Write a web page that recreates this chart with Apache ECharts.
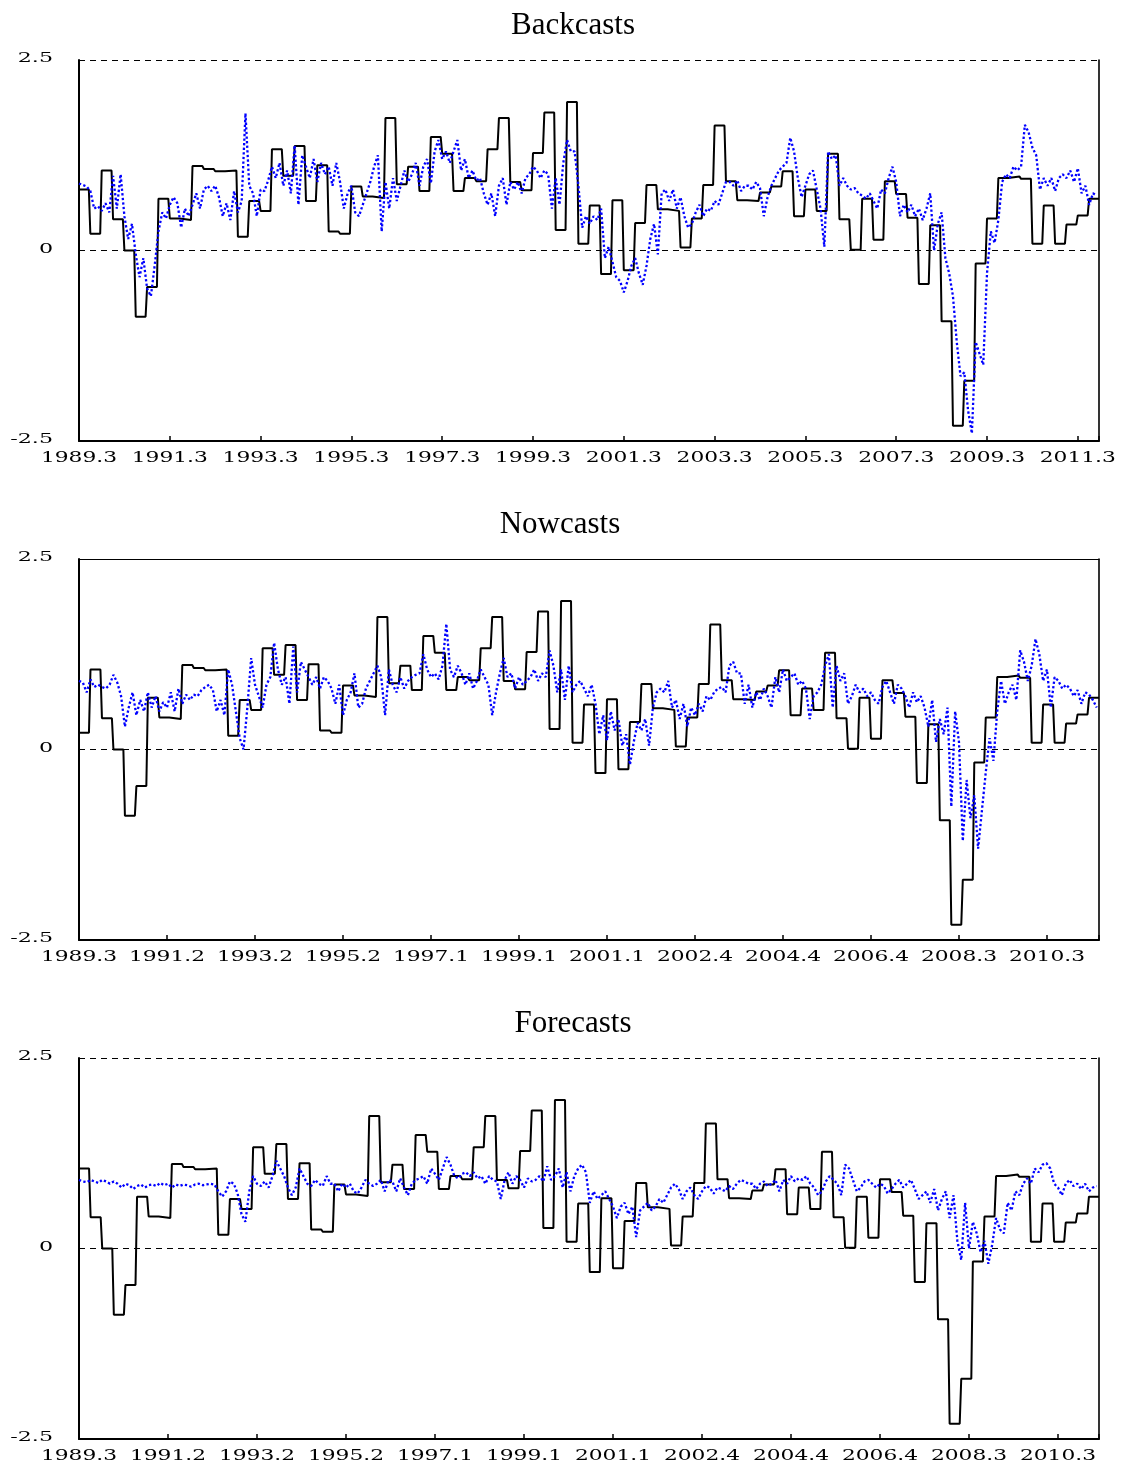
<!DOCTYPE html>
<html>
<head>
<meta charset="utf-8">
<title>Backcasts, Nowcasts and Forecasts</title>
<script src="https://cdn.jsdelivr.net/npm/echarts@6/dist/echarts.min.js"></script>
<style>
  html, body { margin: 0; padding: 0; background: #ffffff; }
  #chart { width: 1125px; height: 1467px; }
</style>
</head>
<body>
<div id="chart"></div>
<script>
// Quarterly GDP growth (%), 1989Q3 onwards: drawn as the black step line
const gdpGrowth = [
  0.80, 0.22, 1.05, 0.41, 0.00, -0.87, -0.48, 0.68, 0.42, 0.40,
  1.11, 1.07, 1.04, 1.05, 0.18, 0.65, 0.52, 1.33, 0.98, 1.37,
  0.65, 1.12, 0.25, 0.22, 0.84, 0.71, 0.69, 1.74, 0.87, 1.10,
  0.78, 1.49, 1.27, 0.78, 0.95, 0.91, 1.33, 1.74, 0.90, 0.79,
  1.28, 1.81, 0.27, 1.95, 0.09, 0.59, -0.31, 0.66, -0.26, 0.36,
  0.86, 0.54, 0.52, 0.04, 0.42, 0.86, 1.64, 0.91, 0.66, 0.65,
  0.76, 0.84, 1.04, 0.45, 0.80, 0.52, 1.27, 0.41, 0.01, 0.68,
  0.14, 0.91, 0.74, 0.43, -0.44, 0.33, -0.93, -2.30, -1.71, -0.17,
  0.42, 0.95, 0.97, 0.94, 0.09, 0.59, 0.09, 0.34, 0.46, 0.68
];

// Monthly model estimates (blue dotted lines)
const backcastPath = [
  0.88, 0.86, 0.84, 0.78, 0.55, 0.58, 0.52, 0.62, 0.50, 0.98,
  0.55, 1.00, 0.45, 0.15, 0.35, -0.05, -0.35, -0.10, -0.50, -0.60,
  -0.20, 0.25, 0.50, 0.42, 0.60, 0.70, 0.62, 0.30, 0.55, 0.45,
  0.60, 0.75, 0.55, 0.80, 0.85, 0.78, 0.85, 0.70, 0.45, 0.62,
  0.40, 0.78, 0.50, 0.65, 1.80, 0.85, 0.75, 0.45, 0.80, 0.78,
  0.92, 1.10, 0.95, 1.15, 0.85, 1.05, 0.75, 1.38, 0.60, 1.25,
  1.10, 0.95, 1.20, 0.90, 1.15, 1.00, 1.10, 0.85, 1.15, 0.90,
  0.55, 0.75, 0.85, 0.50, 0.45, 0.60, 0.75, 0.90, 1.10, 1.25,
  0.25, 0.90, 0.55, 0.95, 0.65, 0.85, 1.05, 0.90, 1.00, 1.15,
  0.85, 1.10, 1.20, 0.88, 1.30, 1.45, 1.20, 1.30, 1.15, 1.30,
  1.45, 1.05, 1.20, 0.95, 1.05, 0.92, 0.95, 0.75, 0.60, 0.75,
  0.45, 0.85, 0.95, 0.60, 0.90, 0.80, 0.90, 0.75, 0.95, 1.00,
  1.10, 1.05, 0.95, 1.05, 1.00, 0.55, 0.95, 0.60, 1.15, 1.45,
  1.30, 1.30, 0.85, 0.30, 0.45, 0.35, 0.45, 0.40, 0.55, -0.10,
  0.05, -0.15, -0.35, -0.40, -0.55, -0.40, -0.20, -0.10, -0.30, -0.45,
  -0.20, 0.15, 0.35, -0.05, 0.75, 0.80, 0.65, 0.80, 0.55, 0.70,
  0.45, 0.30, 0.35, 0.50, 0.60, 0.45, 0.55, 0.52, 0.65, 0.60,
  0.75, 0.90, 0.90, 0.85, 0.92, 0.78, 0.85, 0.85, 0.80, 0.90,
  0.82, 0.45, 0.70, 0.85, 0.95, 1.05, 1.10, 1.15, 1.48, 1.30,
  0.95, 0.70, 0.85, 1.00, 1.05, 0.80, 0.55, 0.05, 1.30, 1.20,
  1.25, 0.85, 0.95, 0.85, 0.80, 0.82, 0.75, 0.72, 0.68, 0.75,
  0.65, 0.55, 0.80, 0.75, 0.95, 1.10, 0.90, 0.45, 0.60, 0.50,
  0.60, 0.45, 0.55, 0.40, 0.55, 0.75, 0.00, 0.35, 0.50, -0.10,
  -0.30, -0.60, -1.20, -1.65, -1.60, -2.10, -2.40, -1.20, -1.35, -1.50,
  -0.30, 0.25, 0.10, 0.40, 0.90, 1.00, 0.95, 1.10, 1.05, 1.10,
  1.65, 1.55, 1.35, 1.25, 0.80, 0.95, 0.85, 0.95, 0.78, 0.95,
  1.00, 0.95, 1.05, 0.90, 1.08, 0.75, 0.85, 0.60, 0.75, 0.72
];

const nowcastPath = [
  0.90, 0.88, 0.75, 0.92, 0.82, 0.85, 0.82, 0.80, 0.85, 0.98,
  0.88, 0.70, 0.30, 0.55, 0.75, 0.45, 0.65, 0.50, 0.75, 0.55,
  0.70, 0.50, 0.62, 0.55, 0.75, 0.50, 0.80, 0.60, 0.72, 0.65,
  0.72, 0.70, 0.78, 0.82, 0.85, 0.78, 0.50, 0.65, 0.45, 1.05,
  0.85, 0.50, 0.15, 0.00, 0.55, 1.20, 0.85, 0.70, 0.55, 0.85,
  0.95, 1.40, 1.05, 0.85, 0.95, 0.60, 1.35, 0.75, 1.15, 1.05,
  0.95, 0.85, 0.95, 0.80, 0.95, 0.90, 0.80, 0.60, 0.85, 0.45,
  0.65, 0.75, 1.00, 0.55, 0.60, 0.80, 0.90, 1.00, 1.10, 0.95,
  0.45, 1.05, 0.85, 0.75, 0.95, 0.80, 0.90, 0.95, 0.98, 1.00,
  1.25, 1.05, 0.95, 1.00, 0.92, 1.10, 1.65, 1.05, 0.95, 1.10,
  1.00, 0.85, 1.00, 0.80, 0.90, 1.05, 0.95, 0.85, 0.45, 0.75,
  1.00, 1.20, 0.95, 1.00, 0.80, 0.95, 0.85, 0.90, 0.95, 1.05,
  0.90, 1.00, 0.95, 1.30, 1.10, 0.75, 1.05, 0.65, 1.10, 0.75,
  0.85, 0.90, 0.80, 0.70, 0.85, 0.60, 0.20, 0.45, 0.12, 0.50,
  0.25, 0.40, 0.05, 0.20, -0.20, 0.10, 0.35, 0.25, 0.40, 0.05,
  0.55, 0.75, 0.80, 0.75, 0.90, 0.55, 0.65, 0.40, 0.60, 0.30,
  0.55, 0.45, 0.60, 0.50, 0.70, 0.65, 0.75, 0.80, 0.82, 0.75,
  1.10, 1.15, 1.00, 1.00, 0.60, 0.85, 0.55, 0.75, 0.65, 0.80,
  0.70, 0.55, 0.95, 0.75, 1.05, 0.90, 0.95, 1.00, 0.85, 0.90,
  0.80, 0.40, 0.70, 0.75, 0.85, 1.10, 1.25, 0.55, 1.10, 0.90,
  1.00, 0.60, 0.70, 0.85, 0.75, 0.80, 0.70, 0.75, 0.65, 0.60,
  0.82, 0.90, 0.75, 0.60, 0.85, 0.80, 0.70, 0.55, 0.75, 0.62,
  0.70, 0.55, 0.30, 0.65, 0.10, 0.40, 0.20, 0.55, -0.75, 0.50,
  0.10, -1.20, -0.40, -0.90, -0.60, -1.30, -0.80, -0.30, 0.15, -0.15,
  0.50, 0.90, 0.60, 0.75, 0.85, 0.65, 1.30, 1.15, 0.90, 1.10,
  1.45, 1.25, 0.90, 1.05, 0.55, 0.95, 0.90, 0.80, 0.85, 0.80,
  0.70, 0.78, 0.60, 0.75, 0.72, 0.65, 0.55
];

const forecastPath = [
  0.90, 0.88, 0.87, 0.90, 0.88, 0.86, 0.90, 0.88, 0.85, 0.88,
  0.85, 0.80, 0.85, 0.83, 0.78, 0.82, 0.84, 0.80, 0.83, 0.84,
  0.82, 0.86, 0.83, 0.85, 0.80, 0.84, 0.82, 0.84, 0.83, 0.81,
  0.84, 0.85, 0.83, 0.84, 0.85, 0.84, 0.75, 0.68, 0.75, 0.88,
  0.85, 0.72, 0.45, 0.35, 0.75, 0.95, 0.85, 0.82, 0.88, 0.80,
  0.95, 1.15, 1.05, 0.95, 0.80, 0.70, 0.80, 1.05, 0.95, 0.85,
  0.82, 0.90, 0.85, 0.82, 0.95, 0.85, 0.85, 0.75, 0.85, 0.80,
  0.85, 0.75, 0.72, 0.80, 0.90, 0.85, 0.82, 0.85, 0.90, 0.75,
  0.90, 0.88, 0.75, 0.92, 0.80, 0.70, 0.85, 0.90, 0.92, 0.95,
  0.85, 1.05, 0.98, 0.90, 1.05, 1.20, 1.10, 0.95, 0.92, 0.98,
  1.00, 0.95, 1.00, 0.92, 0.95, 0.85, 0.95, 0.90, 0.88, 0.65,
  0.90, 1.00, 0.85, 0.95, 0.90, 0.80, 0.92, 0.88, 0.90, 0.95,
  0.88, 1.08, 0.90, 0.95, 1.05, 0.80, 1.00, 0.75, 0.95, 1.05,
  1.10, 1.00, 0.60, 0.75, 0.65, 0.70, 0.75, 0.65, 0.55, 0.40,
  0.55, 0.60, 0.45, 0.55, 0.15, 0.50, 0.55, 0.60, 0.50, 0.55,
  0.65, 0.60, 0.70, 0.80, 0.85, 0.78, 0.65, 0.75, 0.80, 0.70,
  0.65, 0.75, 0.82, 0.80, 0.72, 0.80, 0.78, 0.75, 0.82, 0.78,
  0.85, 0.90, 0.88, 0.85, 0.85, 0.78, 0.85, 0.88, 0.82, 0.85,
  0.90, 0.75, 0.90, 0.85, 0.95, 0.88, 0.92, 0.90, 0.95, 0.85,
  0.80, 0.70, 0.75, 0.88, 0.95, 0.90, 0.85, 0.70, 1.10, 1.05,
  0.90, 0.75, 0.80, 0.88, 0.90, 0.85, 0.80, 0.85, 0.82, 0.72,
  0.78, 0.85, 0.90, 0.80, 0.85, 0.90, 0.78, 0.65, 0.70, 0.75,
  0.60, 0.78, 0.50, 0.65, 0.75, 0.40, 0.70, 0.10, -0.15, 0.60,
  0.00, 0.35, 0.20, -0.05, 0.10, -0.20, 0.05, 0.40, 0.25, 0.20,
  0.60, 0.50, 0.75, 0.70, 0.85, 0.92, 0.85, 1.05, 1.00, 1.10,
  1.12, 1.05, 0.85, 0.80, 0.70, 0.85, 0.90, 0.82, 0.85, 0.78,
  0.85, 0.75, 0.80, 0.82
];

// Tick labels
const backcastTicks = ['1989.3', '1991.3', '1993.3', '1995.3', '1997.3', '1999.3',
  '2001.3', '2003.3', '2005.3', '2007.3', '2009.3', '2011.3'];
const laterTicks = ['1989.3', '1991.2', '1993.2', '1995.2', '1997.1', '1999.1',
  '2001.1', '2002.4', '2004.4', '2006.4', '2008.3', '2010.3'];
const yTicks = ['-2.5', '0', '2.5'];
const panelTitles = ['Backcasts', 'Nowcasts', 'Forecasts'];

// Panel set-up: which quarter each panel starts at, months between ticks
const panels = [
  { title: panelTitles[0], path: backcastPath, firstQuarter: 0, tickStep: 24, ticks: backcastTicks, solidTop: false },
  { title: panelTitles[1], path: nowcastPath,  firstQuarter: 1, tickStep: 23, ticks: laterTicks,    solidTop: true },
  { title: panelTitles[2], path: forecastPath, firstQuarter: 2, tickStep: 23, ticks: laterTicks,    solidTop: false }
];

const panelTop = [60, 559, 1058];
const panelHeight = 381;
const titleCenter = [568, 555, 568];
const labelFont = 'DejaVu Serif';

const grids = [], xAxes = [], yAxes = [], series = [], titles = [], axisRefs = [];

panels.forEach((p, i) => {
  const quarters = gdpGrowth.slice(p.firstQuarter);
  const xMax = 3 * quarters.length - 0.4;

  grids.push({ left: 79, right: 26, top: panelTop[i], height: panelHeight, containLabel: false });

  titles.push({
    text: p.title,
    left: titleCenter[i],
    top: panelTop[i] - 55,
    textAlign: 'center',
    textStyle: { fontFamily: 'Liberation Serif', fontSize: 31, fontWeight: 'normal', color: '#000' }
  });

  const xIndex = xAxes.length;
  xAxes.push({
    gridIndex: i, type: 'value', position: 'bottom',
    min: 0, max: xMax, interval: p.tickStep,
    axisLine: { onZero: false, lineStyle: { color: '#000', width: 2 } },
    axisTick: { inside: true, length: 5, lineStyle: { color: '#000', width: 1.5 } },
    axisLabel: { show: false },
    splitLine: { show: false }
  });
  if (p.solidTop) {
    xAxes.push({
      gridIndex: i, type: 'value', position: 'top', min: 0, max: xMax,
      axisLine: { onZero: false, lineStyle: { color: '#000', width: 1.2 } },
      axisTick: { show: false }, axisLabel: { show: false }, splitLine: { show: false }
    });
  }

  const yIndex = yAxes.length;
  yAxes.push({
    gridIndex: i, type: 'value', position: 'left',
    min: -2.5, max: 2.5, interval: 2.5,
    axisLine: { onZero: false, lineStyle: { color: '#000', width: 2 } },
    axisTick: { show: false },
    axisLabel: { show: false },
    splitLine: { show: true, lineStyle: { color: '#000', width: 1, type: [6, 5] } }
  });
  // right-hand frame
  yAxes.push({
    gridIndex: i, type: 'value', position: 'right', min: -2.5, max: 2.5,
    axisLine: { show: true, onZero: false, lineStyle: { color: '#000', width: 1.6 } },
    axisTick: { show: false }, axisLabel: { show: false }, splitLine: { show: false }
  });
  axisRefs.push({ x: xIndex, y: yIndex });

  // GDP growth as a step line: each quarter spans three months
  const steps = [];
  quarters.forEach((v, k) => { steps.push([3 * k, v], [3 * k + 2.6, v]); });
  series.push({
    type: 'line', xAxisIndex: xIndex, yAxisIndex: yIndex, data: steps,
    showSymbol: false, symbol: 'none', silent: true, z: 2,
    lineStyle: { color: '#000', width: 2 }
  });

  series.push({
    type: 'line', xAxisIndex: xIndex, yAxisIndex: yIndex,
    data: p.path.map((v, m) => [m, v]),
    showSymbol: false, symbol: 'none', silent: true, z: 3,
    lineStyle: { color: '#0000ff', width: 2.3, type: [2.3, 2.3] }
  });
});

const chart = echarts.init(document.getElementById('chart'), null, { renderer: 'canvas' });
chart.setOption({
  backgroundColor: '#ffffff',
  animation: false,
  title: titles,
  grid: grids,
  xAxis: xAxes,
  yAxis: yAxes,
  series: series
});

// Tick labels in a wide, horizontally stretched serif face, placed at the axes' own tick positions
const labels = [];
panels.forEach((p, i) => {
  const ref = axisRefs[i];
  const bottom = chart.convertToPixel({ yAxisIndex: ref.y }, -2.5);
  p.ticks.forEach((text, j) => {
    const px = chart.convertToPixel({ xAxisIndex: ref.x }, j * p.tickStep);
    labels.push({
      type: 'text', x: px, y: bottom + 17, scaleX: 1.45, silent: true,
      style: { text: text, x: 0, y: 0, align: 'center', verticalAlign: 'middle',
               fontFamily: labelFont, fontSize: 15, fill: '#000' }
    });
  });
  yTicks.forEach((text, j) => {
    const py = chart.convertToPixel({ yAxisIndex: ref.y }, -2.5 + 2.5 * j);
    labels.push({
      type: 'text', x: 53, y: py - 1, scaleX: 1.85, silent: true,
      style: { text: text, x: 0, y: 0, align: 'right', verticalAlign: 'middle',
               fontFamily: labelFont, fontSize: 12, fill: '#000' }
    });
  });
});
chart.setOption({ graphic: labels });
</script>
</body>
</html>
